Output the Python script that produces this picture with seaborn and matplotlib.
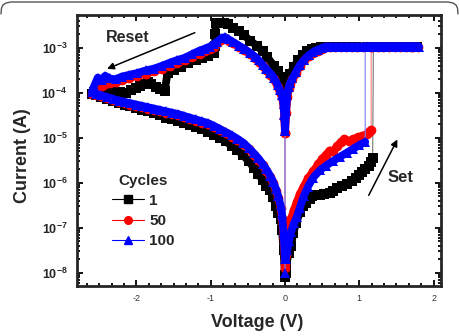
import numpy as np
import pandas as pd
import matplotlib
matplotlib.use('Agg')
import matplotlib.pyplot as plt
from matplotlib.lines import Line2D
from matplotlib.ticker import AutoMinorLocator, FixedLocator, FixedFormatter, LogLocator, NullFormatter
import seaborn as sns


# ---- data: voltage (V) and log10 of current (A) ----
# cycle 1 (black squares)
v_c1 = [0.00, 0.00, -0.02, -0.04, -0.07, -0.10, -0.15, -0.24, -0.30, -0.38, -0.47, -0.55, -0.62, -0.70, -0.77, -0.82, -0.87, -0.93,
        -0.94, -0.94, -0.96, -1.04, -1.12, -1.20, -1.30, -1.40, -1.50, -1.58, -1.62, -1.68, -1.74, -1.80, -1.85, -1.90, -1.95,
        -2.00, -2.07, -2.14, -2.22, -2.30, -2.40, -2.50, -2.57, -2.60,
        -2.55, -2.48, -2.40, -2.32, -2.24, -2.16, -2.08, -2.00, -1.92, -1.84, -1.76, -1.68, -1.60, -1.52, -1.44, -1.36, -1.28,
        -1.20, -1.12, -1.04, -0.96, -0.88, -0.80, -0.72, -0.64, -0.56, -0.49, -0.42, -0.36, -0.30, -0.25, -0.20, -0.16, -0.12,
        -0.09, -0.06, -0.04, -0.02, 0.00,
        0.01, 0.02, 0.05, 0.08, 0.11, 0.15, 0.20, 0.24, 0.28, 0.33, 0.37, 0.42, 0.47, 0.53, 0.60, 0.65, 0.70, 0.77, 0.83, 0.90,
        0.96, 1.00, 1.04, 1.08, 1.13, 1.16, 1.18,
        1.19, 1.30, 1.45, 1.60, 1.72, 1.78,
        1.70, 1.55, 1.40, 1.25, 1.10, 0.95, 0.85, 0.75, 0.65, 0.55, 0.48, 0.42, 0.36, 0.30, 0.24, 0.18, 0.12, 0.07, 0.04, 0.02, 0.00]
logi_c1 = [-8.10, -4.00, -3.85, -3.75, -3.64, -3.52, -3.40, -3.20, -3.08, -2.95, -2.84, -2.72, -2.63, -2.55, -2.48, -2.45, -2.44, -2.45,
           -2.70, -2.95, -3.12, -3.18, -3.22, -3.27, -3.33, -3.42, -3.50, -3.55, -3.95, -3.92, -3.88, -3.80, -3.76, -3.80, -3.84,
           -3.90, -3.93, -4.00, -3.98, -3.97, -3.96, -3.97, -3.98, -4.02,
           -4.05, -4.09, -4.14, -4.18, -4.22, -4.26, -4.30, -4.33, -4.37, -4.41, -4.45, -4.50, -4.55, -4.59, -4.63, -4.67, -4.71,
           -4.76, -4.81, -4.87, -4.93, -5.00, -5.08, -5.17, -5.27, -5.39, -5.52, -5.66, -5.80, -5.94, -6.06, -6.16, -6.32, -6.52,
           -6.66, -6.80, -7.05, -7.50, -8.05,
           -8.00, -7.80, -7.55, -7.40, -7.12, -6.89, -6.65, -6.52, -6.44, -6.35, -6.29, -6.27, -6.26, -6.24, -6.22, -6.17, -6.12,
           -6.07, -6.02, -5.96, -5.89, -5.82, -5.76, -5.70, -5.62, -5.53, -5.45,
           -2.97, -2.97, -2.97, -2.97, -2.97, -2.97,
           -2.97, -2.97, -2.97, -2.97, -2.97, -2.97, -2.97, -2.97, -2.97, -2.97, -2.97, -3.00, -3.03, -3.07, -3.15, -3.27,
           -3.42, -3.58, -3.72, -3.82, -4.00]

# cycle 50 (red circles)
v_c50 = [0.00, 0.00, -0.01, -0.02, -0.04, -0.07, -0.10, -0.15, -0.20, -0.25, -0.30, -0.35, -0.40, -0.47, -0.55, -0.62, -0.70, -0.76, -0.81,
         -0.86, -0.91, -0.96, -1.01, -1.08, -1.15, -1.25, -1.35, -1.45, -1.55, -1.66, -1.76, -1.87, -1.99, -2.10, -2.20, -2.28,
         -2.36, -2.42, -2.47, -2.52, -2.57, -2.60,
         -2.55, -2.48, -2.40, -2.32, -2.24, -2.16, -2.08, -2.00, -1.92, -1.84, -1.76, -1.68, -1.60, -1.52, -1.44, -1.36, -1.28,
         -1.20, -1.12, -1.04, -0.96, -0.88, -0.80, -0.72, -0.64, -0.56, -0.49, -0.42, -0.36, -0.30, -0.25, -0.20, -0.16, -0.12,
         -0.09, -0.06, -0.04, -0.02, 0.00,
         0.01, 0.03, 0.05, 0.08, 0.12, 0.16, 0.20, 0.25, 0.31, 0.38, 0.45, 0.50, 0.55, 0.60, 0.65, 0.70, 0.75, 0.80, 0.86, 0.92,
         0.98, 1.04, 1.10, 1.13, 1.16,
         1.16, 1.25, 1.40, 1.55, 1.70, 1.79,
         1.725, 1.625, 1.475, 1.325, 1.175, 1.05, 0.975, 0.90, 0.825, 0.75, 0.675, 0.60, 0.55, 0.50, 0.44, 0.38, 0.32, 0.26,
         0.20, 0.15, 0.10, 0.07, 0.05, 0.03, 0.015, 0.00]
logi_c50 = [-7.90, -4.90, -4.55, -4.30, -4.10, -3.97, -3.86, -3.70, -3.60, -3.50, -3.41, -3.31, -3.23, -3.14, -3.05, -2.98, -2.90, -2.84, -2.79,
            -2.83, -2.90, -2.97, -3.03, -3.08, -3.13, -3.20, -3.28, -3.34, -3.40, -3.47, -3.52, -3.57, -3.62, -3.67, -3.72, -3.76,
            -3.78, -3.80, -3.84, -3.88, -3.95, -4.02,
            -4.05, -4.08, -4.12, -4.16, -4.20, -4.23, -4.26, -4.29, -4.32, -4.35, -4.38, -4.41, -4.44, -4.47, -4.50, -4.54, -4.58,
            -4.62, -4.66, -4.70, -4.76, -4.83, -4.90, -4.97, -5.05, -5.14, -5.25, -5.37, -5.48, -5.61, -5.73, -5.87, -6.00, -6.17,
            -6.34, -6.55, -6.78, -7.20, -7.80,
            -7.60, -7.30, -7.05, -6.80, -6.60, -6.42, -6.25, -6.08, -5.90, -5.74, -5.58, -5.46, -5.38, -5.28, -5.30, -5.18, -5.10,
            -5.03, -5.08, -5.03, -4.99, -4.96, -4.92, -4.86, -4.82,
            -2.99, -2.99, -2.99, -2.99, -2.99, -2.99,
            -2.99, -2.99, -2.99, -2.99, -2.99, -2.99, -2.99, -2.99, -2.99, -2.99, -2.99, -2.99, -2.99, -3.02, -3.06, -3.11, -3.18,
            -3.28, -3.40, -3.55, -3.70, -3.80, -3.90, -4.10, -4.45, -4.90]

# cycle 100 (blue triangles)
v_c100 = [0.00, 0.00, -0.01, -0.02, -0.04, -0.07, -0.10, -0.15, -0.20, -0.25, -0.30, -0.35, -0.40, -0.47, -0.55, -0.62, -0.70, -0.76, -0.81,
          -0.86, -0.91, -0.96, -1.01, -1.08, -1.15, -1.25, -1.35, -1.45, -1.55, -1.66, -1.76, -1.87, -1.99, -2.10, -2.20, -2.28,
          -2.36, -2.42, -2.47, -2.52, -2.57, -2.60,
          -2.55, -2.48, -2.40, -2.32, -2.24, -2.16, -2.08, -2.00, -1.92, -1.84, -1.76, -1.68, -1.60, -1.52, -1.44, -1.36, -1.28,
          -1.20, -1.12, -1.04, -0.96, -0.88, -0.80, -0.72, -0.64, -0.56, -0.49, -0.42, -0.36, -0.30, -0.25, -0.20, -0.16, -0.12,
          -0.09, -0.06, -0.04, -0.02, 0.00,
          0.01, 0.03, 0.05, 0.08, 0.12, 0.16, 0.20, 0.25, 0.31, 0.38, 0.47, 0.55, 0.64, 0.74, 0.83, 0.92, 1.00, 1.08,
          1.08, 1.20, 1.35, 1.50, 1.65, 1.75, 1.80,
          1.725, 1.625, 1.475, 1.325, 1.175, 1.05, 0.975, 0.90, 0.825, 0.75, 0.675, 0.60, 0.55, 0.50, 0.44, 0.38, 0.32, 0.26,
          0.20, 0.15, 0.10, 0.07, 0.05, 0.03, 0.015, 0.00]
logi_c100 = [-8.00, -4.85, -4.50, -4.25, -4.05, -3.93, -3.82, -3.66, -3.56, -3.47, -3.38, -3.28, -3.20, -3.11, -3.02, -2.95, -2.87, -2.81, -2.76,
             -2.79, -2.86, -2.92, -2.97, -3.02, -3.06, -3.14, -3.22, -3.27, -3.33, -3.40, -3.46, -3.50, -3.56, -3.60, -3.64, -3.70,
             -3.68, -3.62, -3.71, -3.66, -3.85, -3.98,
             -4.02, -4.05, -4.09, -4.13, -4.17, -4.20, -4.23, -4.26, -4.29, -4.32, -4.35, -4.38, -4.41, -4.44, -4.47, -4.51, -4.55,
             -4.59, -4.63, -4.67, -4.73, -4.80, -4.87, -4.94, -5.02, -5.11, -5.22, -5.34, -5.45, -5.58, -5.70, -5.84, -5.97, -6.14,
             -6.30, -6.50, -6.70, -7.10, -7.70,
             -7.70, -7.50, -7.30, -7.10, -6.90, -6.75, -6.55, -6.30, -6.08, -5.88, -5.72, -5.62, -5.52, -5.42, -5.33, -5.24, -5.16, -5.09,
             -2.97, -2.97, -2.97, -2.97, -2.97, -2.97, -2.97,
             -2.97, -2.97, -2.97, -2.97, -2.97, -2.97, -2.97, -2.97, -2.97, -2.97, -2.97, -2.97, -2.97, -3.00, -3.04, -3.09, -3.16,
             -3.26, -3.38, -3.53, -3.68, -3.78, -3.87, -4.05, -4.40, -4.85]

cycles = ['1', '50', '100']
colors = {'1': '#000000', '50': '#ff0000', '100': '#0000ff'}
thin_colors = {'1': '#777777', '50': '#ff8080', '100': '#8080ff'}
markers = {'1': 's', '50': 'o', '100': '^'}


def build_frame():
    parts = []
    for name, v, lg in [('1', v_c1, logi_c1), ('50', v_c50, logi_c50), ('100', v_c100, logi_c100)]:
        lg = np.array(lg)
        df = pd.DataFrame({'voltage': v, 'current': 10.0 ** lg})
        df['cycle'] = name
        # a switching jump starts a new branch: the jump itself is drawn only as a thin line
        jump = np.abs(np.diff(lg, prepend=lg[0])) > 0.9
        df['branch'] = np.cumsum(jump)
        parts.append(df)
    return pd.concat(parts, ignore_index=True)


def main():
    sns.set_style('ticks')
    plt.rcParams['font.family'] = ['Liberation Sans', 'DejaVu Sans']
    plt.rcParams['mathtext.fontset'] = 'custom'
    plt.rcParams['mathtext.rm'] = 'Liberation Sans'
    plt.rcParams['mathtext.bf'] = 'Liberation Sans:bold'

    data = build_frame()

    fig = plt.figure(figsize=(4.59, 3.36), dpi=100)
    ax = fig.add_axes([77 / 459, 1 - 286 / 336, 364 / 459, 271 / 336])

    for name in cycles:
        sub = data[data['cycle'] == name]
        # thin connecting line through the whole sweep (visible at the jumps)
        sns.lineplot(data=sub, x='voltage', y='current', sort=False, estimator=None,
                     color=thin_colors[name], linewidth=0.8, ax=ax, legend=False)
        # dense markers merge into a thick band along each branch
        sns.lineplot(data=sub, x='voltage', y='current', units='branch', sort=False, estimator=None,
                     color=colors[name], linewidth=5.6, solid_capstyle='round', solid_joinstyle='round',
                     ax=ax, legend=False)
        sns.lineplot(data=sub, x='voltage', y='current', sort=False, estimator=None,
                     color=colors[name], marker=markers[name], markersize=7, linestyle='none',
                     markeredgewidth=0, ax=ax, legend=False)

    ax.set_yscale('log')
    ax.set_xlim(-2.8, 2.1)
    ax.set_ylim(10 ** -8.29, 10 ** -2.27)

    # ticks
    ax.xaxis.set_major_locator(FixedLocator([-2, -1, 0, 1, 2]))
    ax.xaxis.set_major_formatter(FixedFormatter(['-2', '-1', '0', '1', '2']))
    ax.xaxis.set_minor_locator(AutoMinorLocator(6))
    yt = [1e-8, 1e-7, 1e-6, 1e-5, 1e-4, 1e-3]
    ax.yaxis.set_major_locator(FixedLocator(yt))
    ax.yaxis.set_major_formatter(FixedFormatter([r'$\mathbf{10^{-%d}}$' % k for k in [8, 7, 6, 5, 4, 3]]))
    ax.yaxis.set_minor_locator(LogLocator(base=10, subs=np.arange(2, 10), numticks=20))
    ax.yaxis.set_minor_formatter(NullFormatter())
    ax.tick_params(which='both', direction='in', top=True, right=True, width=1.3, color='black')
    ax.tick_params(which='major', length=4.5)
    ax.tick_params(which='minor', length=2.5)
    ax.tick_params(axis='x', labelsize=6.5, labelcolor='#333333', pad=6)
    ax.tick_params(axis='y', labelsize=9, pad=7)
    for s in ax.spines.values():
        s.set_linewidth(2)

    ax.set_xlabel('Voltage (V)', fontsize=13, fontweight='bold')
    ax.set_ylabel('Current (A)', fontsize=13, fontweight='bold')
    ax.xaxis.label.set_va('center')
    ax.xaxis.set_label_coords(0.495, -0.133)
    ax.yaxis.label.set_va('center')
    ax.yaxis.set_label_coords(-0.151, 0.48)

    # arrows and notes
    ax.annotate('', xy=(-2.43, 10 ** -3.49), xytext=(-1.18, 10 ** -2.64),
                arrowprops=dict(arrowstyle='-|>', color='black', lw=1.1, mutation_scale=10))
    ax.text(-2.12, 10 ** -2.78, 'Reset', fontsize=11.5, fontweight='bold', ha='center', va='center')
    ax.annotate('', xy=(1.53, 10 ** -4.98), xytext=(1.11, 10 ** -6.33),
                arrowprops=dict(arrowstyle='-|>', color='black', lw=1.1, mutation_scale=10))
    ax.text(1.55, 10 ** -5.89, 'Set', fontsize=12, fontweight='bold', ha='center', va='center')

    handles = [Line2D([], [], color=colors[c], marker=markers[c], markersize=5.5, lw=0.8) for c in cycles]
    leg = ax.legend(handles, cycles, title='Cycles', loc='upper left', frameon=False,
                    bbox_to_anchor=(104 / 459, 1 - 166 / 336), bbox_transform=fig.transFigure,
                    borderpad=0, handlelength=2.1, handletextpad=0.35, labelspacing=0.4,
                    prop={'weight': 'bold', 'size': 11})
    leg.get_title().set_fontweight('bold')
    leg.get_title().set_fontsize(11)

    # rounded frame line across the top of the picture
    px = [1, 1.5, 3, 6, 11, 448, 453, 456, 457.5, 458]
    py = [14, 8, 5, 3, 2, 2, 3, 5, 8, 14]
    fig.add_artist(Line2D([x / 459 for x in px], [1 - y / 336 for y in py], color='#555555', lw=1.0,
                          transform=fig.transFigure))

    fig.savefig('out.png', dpi=100)
    plt.close(fig)


if __name__ == '__main__':
    main()
